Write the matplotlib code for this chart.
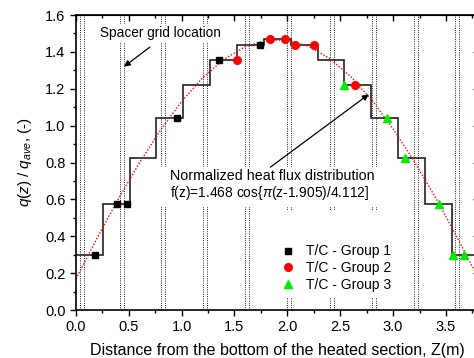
import matplotlib
matplotlib.use('Agg')
import matplotlib.pyplot as plt
from matplotlib.ticker import MultipleLocator, FormatStrFormatter
from matplotlib.patches import Rectangle

plt.rcParams['font.family'] = ['Liberation Sans', 'DejaVu Sans']
plt.rcParams['mathtext.fontset'] = 'custom'
plt.rcParams['mathtext.it'] = 'Liberation Sans:italic'
plt.rcParams['mathtext.rm'] = 'Liberation Sans'

# axial power steps (15 steps of 0.254 m)
step_edges = [0.0, 0.254, 0.508, 0.762, 1.016, 1.27, 1.524, 1.778, 2.032,
              2.286, 2.54, 2.794, 3.048, 3.302, 3.556, 3.81]
step_vals = [0.30, 0.575, 0.824, 1.04, 1.22, 1.356, 1.44, 1.468,
             1.44, 1.356, 1.22, 1.04, 0.824, 0.575, 0.30]

# normalized cosine curve
curve_z = [0.0, 0.2, 0.4, 0.6, 0.8, 1.0, 1.2, 1.4, 1.6, 1.8, 2.0,
           2.2, 2.4, 2.6, 2.8, 3.0, 3.2, 3.4, 3.6, 3.8]
curve_f = [0.169, 0.389, 0.601, 0.797, 0.975, 1.131, 1.260, 1.360, 1.428, 1.463, 1.464,
           1.431, 1.364, 1.266, 1.138, 0.983, 0.806, 0.611, 0.400, 0.180]

# spacer grids (pairs of dotted lines)
grid_z = [0.04, 0.42, 0.81, 1.20, 1.60, 2.00, 2.40, 2.80, 3.20, 3.59]
grid_w = 0.037

# thermocouples
g1_z = [0.18, 0.39, 0.48, 0.96, 1.35, 1.74]
g1_q = [0.30, 0.575, 0.575, 1.04, 1.356, 1.44]
g2_z = [1.52, 1.84, 1.98, 2.07, 2.25, 2.64]
g2_q = [1.356, 1.468, 1.468, 1.44, 1.44, 1.22]
g3_z = [2.54, 2.94, 3.11, 3.43, 3.57, 3.67]
g3_q = [1.22, 1.04, 0.824, 0.575, 0.30, 0.30]

fig = plt.figure(figsize=(4.74, 3.58), dpi=100)
ax = fig.add_axes([0.160, 0.134, 0.850, 0.824])

dots = (0, (1, 1.3))
for g in grid_z:
    ax.axvline(g, color='#222222', ls=dots, lw=0.7, zorder=1)
    ax.axvline(g + grid_w, color='#222222', ls=dots, lw=0.7, zorder=1)

# white boxes behind the text blocks and legend
ax.add_patch(Rectangle((0.80, 0.56), 2.07, 0.215, facecolor='white',
                       edgecolor='none', zorder=1.5))
ax.add_patch(Rectangle((1.70, 0.065), 1.35, 0.475, facecolor='white',
                       edgecolor='none', zorder=1.5))

ax.stairs(step_vals, step_edges, color='#222222', lw=1.2, baseline=None, zorder=2)
ax.plot(curve_z, curve_f, color='red', ls=dots, lw=1.0, zorder=2.5)

ax.plot(g1_z, g1_q, 's', color='black', ms=4.8, ls='none', label='T/C - Group 1', zorder=3)
ax.plot(g2_z, g2_q, 'o', color='red', ms=5.5, ls='none', label='T/C - Group 2', zorder=3)
ax.plot(g3_z, g3_q, '^', color='#00ee00', ms=6, ls='none', label='T/C - Group 3', zorder=3)

ax.text(0.227, 1.502, 'Spacer grid location', fontsize=9.8, va='center', zorder=4,
        bbox=dict(facecolor='white', edgecolor='none', pad=1.5))
ax.annotate('', xy=(0.455, 1.32), xytext=(0.70, 1.426),
            arrowprops=dict(arrowstyle='-|>', color='k', lw=0.9,
                            mutation_scale=9, shrinkA=0, shrinkB=0))
ax.annotate('', xy=(2.77, 1.17), xytext=(1.84, 0.775),
            arrowprops=dict(arrowstyle='-|>', color='k', lw=0.9,
                            mutation_scale=9, shrinkA=0, shrinkB=0))
ax.text(0.89, 0.727, 'Normalized heat flux distribution', fontsize=10.3, va='center', zorder=4)
ax.text(0.89, 0.635, r'f(z)=1.468 cos{$\pi$(z-1.905)/4.112]', fontsize=9.9, va='center', zorder=4)

leg = ax.legend(loc='center left', bbox_to_anchor=(0.474, 0.142), frameon=False,
                fontsize=10, handletextpad=0.75, labelspacing=0.2, handlelength=1.2,
                borderpad=0.4)
leg.set_zorder(5)

ax.set_xlim(0, 3.81)
ax.set_ylim(0, 1.6)
ax.xaxis.set_major_locator(MultipleLocator(0.5))
ax.xaxis.set_minor_locator(MultipleLocator(0.25))
ax.yaxis.set_major_locator(MultipleLocator(0.2))
ax.yaxis.set_minor_locator(MultipleLocator(0.1))
ax.xaxis.set_major_formatter(FormatStrFormatter('%.1f'))
ax.yaxis.set_major_formatter(FormatStrFormatter('%.1f'))
ax.tick_params(which='both', direction='out', labelsize=10.5, width=1)
ax.tick_params(which='major', length=4)
ax.tick_params(which='minor', length=2.5)
for sp in ax.spines.values():
    sp.set_linewidth(1.2)

# mirrored ticks on top/right point inwards
ax2 = ax.secondary_xaxis('top')
ax2.xaxis.set_major_locator(MultipleLocator(0.5))
ax2.xaxis.set_minor_locator(MultipleLocator(0.25))
ax2.tick_params(which='both', direction='in', labeltop=False, width=1)
ax2.tick_params(which='major', length=4)
ax2.tick_params(which='minor', length=2.5)
ax3 = ax.secondary_yaxis('right')
ax3.yaxis.set_major_locator(MultipleLocator(0.2))
ax3.yaxis.set_minor_locator(MultipleLocator(0.1))
ax3.tick_params(which='both', direction='in', labelright=False, width=1)
ax3.tick_params(which='major', length=4)
ax3.tick_params(which='minor', length=2.5)

ax.set_xlabel('Distance from the bottom of the heated section, Z(m)', fontsize=11.5, labelpad=6)
ax.set_ylabel(r'$q(z)$ / $q_{ave}$, (-)', fontsize=11, labelpad=8)

fig.savefig('out.png', dpi=100)
